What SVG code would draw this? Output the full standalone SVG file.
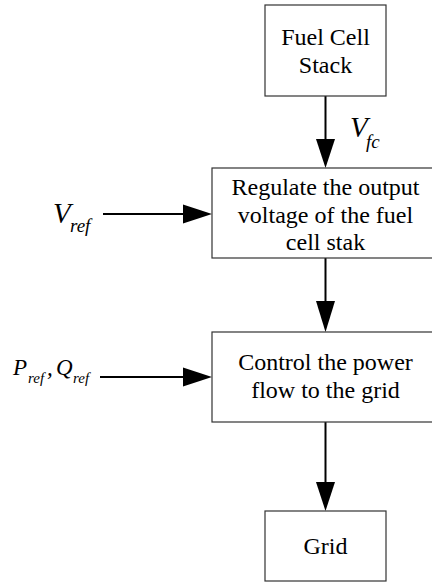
<svg xmlns="http://www.w3.org/2000/svg" width="432" height="586" viewBox="0 0 432 586">
<style>
.box{fill:#fff;stroke:#333;stroke-width:1.2}
.t{font-family:'Liberation Serif','Times New Roman',Times,'DejaVu Serif',serif;font-size:24px;font-style:normal;fill:#000;text-anchor:middle}
.m{font-family:'Liberation Serif','Times New Roman',Times,serif;font-style:italic;fill:#000}
.ln{stroke:#000;stroke-width:2;fill:none}
.ah{fill:#000}
</style>
<rect width="432" height="586" fill="#fff"/>
<g id="connectors">
<line class="ln" x1="325.5" y1="96" x2="325.5" y2="140"/>
<polygon class="ah" points="316,139 335,139 325.5,168"/>
<line class="ln" x1="325.5" y1="258" x2="325.5" y2="302"/>
<polygon class="ah" points="316,301 335,301 325.5,332"/>
<line class="ln" x1="325.5" y1="422" x2="325.5" y2="483"/>
<polygon class="ah" points="316,482 335,482 325.5,511"/>
<line class="ln" x1="103" y1="214" x2="184" y2="214"/>
<polygon class="ah" points="183,204.5 183,223.5 212,214"/>
<line class="ln" x1="100" y1="377" x2="184" y2="377"/>
<polygon class="ah" points="183,367.5 183,386.5 212,377"/>
</g>
<g id="fuel-cell-stack">
<rect class="box" x="265" y="5" width="121" height="91"/>
<text class="t" x="325.5" y="45">Fuel Cell</text>
<text class="t" x="325.5" y="73">Stack</text>
</g>
<g id="vfc-label">
<text class="m" x="350" y="137" font-size="29">V</text>
<text class="m" x="366" y="148" font-size="19">fc</text>
</g>
<g id="regulate">
<rect class="box" x="212" y="168" width="232" height="90"/>
<text class="t" x="325.5" y="195">Regulate the output</text>
<text class="t" x="325.5" y="223">voltage of the fuel</text>
<text class="t" x="325.5" y="250">cell stak</text>
</g>
<g id="vref-label">
<text class="m" x="53" y="223" font-size="29">V</text>
<text class="m" x="70" y="232" font-size="19">ref</text>
</g>
<g id="control">
<rect class="box" x="212" y="332" width="232" height="90"/>
<text class="t" x="325.5" y="370">Control the power</text>
<text class="t" x="325.5" y="398">flow to the grid</text>
</g>
<g id="pq-label">
<text class="m" x="13" y="375" font-size="23">P</text>
<text class="m" x="28" y="383" font-size="15">ref</text>
<text class="m" x="47" y="375" font-size="23">,</text>
<text class="m" x="56" y="375" font-size="23">Q</text>
<text class="m" x="73" y="383" font-size="15">ref</text>
</g>
<g id="grid">
<rect class="box" x="265" y="511" width="121" height="70"/>
<text class="t" x="325.5" y="554">Grid</text>
</g>
</svg>
